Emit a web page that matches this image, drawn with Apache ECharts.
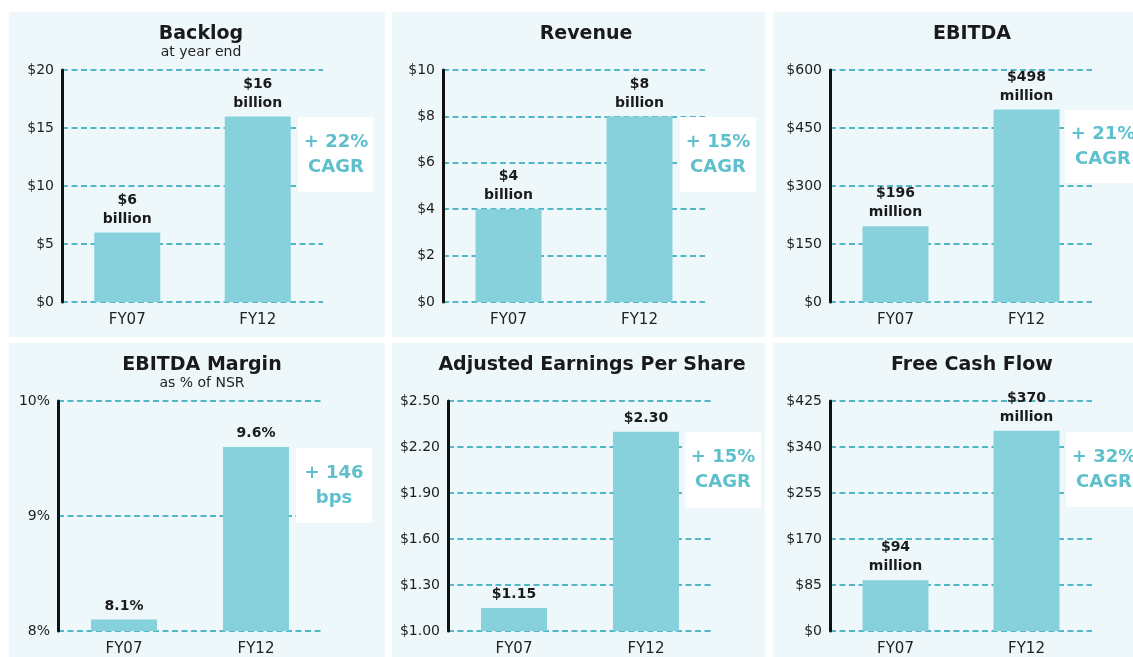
<!DOCTYPE html>
<html>
<head>
<meta charset="utf-8">
<title>FY07 vs FY12</title>
<script src="https://cdn.jsdelivr.net/npm/echarts@6/dist/echarts.min.js"></script>
<style>
  html, body { margin: 0; padding: 0; background: #fff; }
  #main { width: 1133px; height: 657px; }
</style>
</head>
<body>
<div id="main"></div>
<script>
// 数据
var years = ["FY07", "FY12"];

var backlog = [6, 16];          // $ billion
var revenue = [4, 8];           // $ billion
var ebitda = [196, 498];        // $ million
var ebitdaMargin = [8.1, 9.6];  // %
var adjEps = [1.15, 2.30];      // $
var fcf = [94, 370];            // $ million

var growthText = ["+ 22%\nCAGR", "+ 15%\nCAGR", "+ 21%\nCAGR", "+ 146\nbps", "+ 15%\nCAGR", "+ 32%\nCAGR"];

// EPS 轴从 $1.00 开始，按 0.30 刻度，所以数据减去基数后画
var epsBase = 1.0;

var font = "DejaVu Sans";
var teal = "#86d1dc";
var gridTeal = "#52b8c7";
var textTeal = "#5ec0cd";

// 六个面板的位置
var panels = [
  { x: 9, y: 12, w: 376, h: 325, grid: { left: 62, top: 70, width: 261, height: 232 }, cx: 196 },
  { x: 392, y: 12, w: 373, h: 325, grid: { left: 443, top: 70, width: 262, height: 232 }, cx: 581 },
  { x: 773, y: 12, w: 370, h: 325, grid: { left: 830, top: 70, width: 262, height: 232 }, cx: 967 },
  { x: 9, y: 343, w: 376, h: 320, grid: { left: 58, top: 401, width: 264, height: 233 }, cx: 197 },
  { x: 392, y: 343, w: 373, h: 320, grid: { left: 448, top: 401, width: 264, height: 233 }, cx: 587 },
  { x: 773, y: 343, w: 370, h: 320, grid: { left: 830, top: 401, width: 262, height: 233 }, cx: 967 }
];

// 白色增长率框
var boxes = [
  { x: 298, y: 117, w: 75, h: 75 },
  { x: 680, y: 117, w: 76, h: 75 },
  { x: 1065, y: 110, w: 80, h: 73 },
  { x: 296, y: 448, w: 76, h: 75 },
  { x: 685, y: 432, w: 76, h: 76 },
  { x: 1066, y: 432, w: 80, h: 75 }
];

var titles = [
  { text: "Backlog", sub: "at year end" },
  { text: "Revenue", sub: "" },
  { text: "EBITDA", sub: "" },
  { text: "EBITDA Margin", sub: "as % of NSR" },
  { text: "Adjusted Earnings Per Share", sub: "" },
  { text: "Free Cash Flow", sub: "" }
];

var axes = [
  { min: 0, max: 20, interval: 5, fmt: function (v) { return "$" + v; } },
  { min: 0, max: 10, interval: 2, fmt: function (v) { return "$" + v; } },
  { min: 0, max: 600, interval: 150, fmt: function (v) { return "$" + v; } },
  { min: 8, max: 10, interval: 1, fmt: function (v) { return v + "%"; } },
  { min: 0, max: 1.5, interval: 0.3, fmt: function (v) { return "$" + (v + epsBase).toFixed(2); } },
  { min: 0, max: 425, interval: 85, fmt: function (v) { return "$" + v; } }
];

var seriesData = [
  backlog,
  revenue,
  ebitda,
  ebitdaMargin,
  adjEps.map(function (v) { return +(v - epsBase).toFixed(2); }),
  fcf
];

var labelFmt = [
  function (p) { return "$" + backlog[p.dataIndex] + "\nbillion"; },
  function (p) { return "$" + revenue[p.dataIndex] + "\nbillion"; },
  function (p) { return "$" + ebitda[p.dataIndex] + "\nmillion"; },
  function (p) { return ebitdaMargin[p.dataIndex].toFixed(1) + "%"; },
  function (p) { return "$" + adjEps[p.dataIndex].toFixed(2); },
  function (p) { return "$" + fcf[p.dataIndex] + "\nmillion"; }
];

var myChart = echarts.init(document.getElementById("main"));

var option = {
  backgroundColor: "#ffffff",
  animation: false,
  title: [],
  grid: [],
  xAxis: [],
  yAxis: [],
  series: [],
  graphic: []
};

panels.forEach(function (p, i) {
  option.graphic.push({
    type: "rect",
    z: -10,
    silent: true,
    shape: { x: p.x, y: p.y, width: p.w, height: p.h },
    style: { fill: "#eef8fb" }
  });

  option.title.push({
    text: titles[i].text,
    subtext: titles[i].sub,
    left: p.cx,
    top: p.y + 8,
    textAlign: "center",
    itemGap: 1,
    textStyle: { fontFamily: font, fontSize: 19, fontWeight: "bold", color: "#1a1a1a" },
    subtextStyle: { fontFamily: font, fontSize: 14, color: "#222" }
  });

  option.grid.push({
    left: p.grid.left,
    top: p.grid.top,
    width: p.grid.width,
    height: p.grid.height
  });

  option.xAxis.push({
    type: "category",
    gridIndex: i,
    data: years,
    axisLine: { show: false },
    axisTick: { show: false },
    axisLabel: { margin: 11, fontFamily: font, fontSize: 15, color: "#222" }
  });

  var a = axes[i];
  option.yAxis.push({
    type: "value",
    gridIndex: i,
    min: a.min,
    max: a.max,
    interval: a.interval,
    axisLine: { show: true, lineStyle: { color: "#111", width: 3 } },
    axisTick: { show: false },
    axisLabel: { margin: 8, fontFamily: font, fontSize: 14, color: "#1e1e1e", formatter: a.fmt },
    splitLine: {
      show: true,
      lineStyle: { color: gridTeal, width: 2, type: [6, 3.5] }
    }
  });

  option.series.push({
    type: "bar",
    xAxisIndex: i,
    yAxisIndex: i,
    data: seriesData[i],
    barWidth: 66,
    itemStyle: { color: teal },
    label: {
      show: true,
      position: "top",
      distance: 4,
      formatter: labelFmt[i],
      fontFamily: font,
      fontSize: 14,
      fontWeight: "bold",
      lineHeight: 19,
      color: "#1a1a1a"
    }
  });

  var b = boxes[i];
  option.graphic.push({
    type: "rect",
    z: 50,
    silent: true,
    shape: { x: b.x, y: b.y, width: b.w, height: b.h },
    style: { fill: "#ffffff" }
  });
  option.graphic.push({
    type: "text",
    z: 51,
    silent: true,
    x: b.x + 38,
    y: b.y + b.h / 2,
    style: {
      text: growthText[i],
      fill: textTeal,
      font: "bold 18px '" + font + "'",
      lineHeight: 25,
      align: "center",
      verticalAlign: "middle"
    }
  });
});

myChart.setOption(option);
window.addEventListener("resize", function () {
  myChart.resize();
});
</script>
</body>
</html>
